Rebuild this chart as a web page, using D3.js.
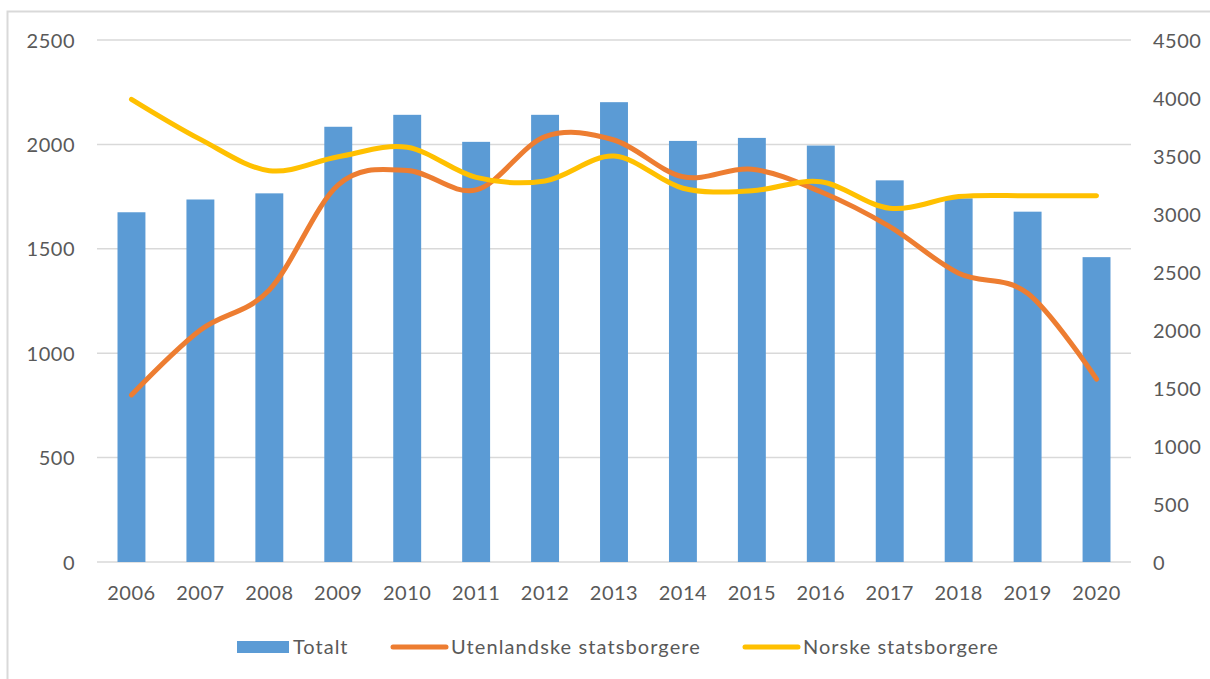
<!DOCTYPE html>
<html>
<head>
<meta charset="utf-8">
<script src="https://cdn.jsdelivr.net/npm/d3@7"></script>
<style>
  body { margin: 0; background: #fff; }
  svg text { font-family: Lato, "Open Sans", sans-serif; fill: #595959; }
</style>
</head>
<body>
<div id="chart"></div>
<script>
// data
var years = ["2006", "2007", "2008", "2009", "2010", "2011", "2012", "2013",
             "2014", "2015", "2016", "2017", "2018", "2019", "2020"];
var totalt = [3015, 3125, 3178, 3752, 3855, 3622, 3855, 3964, 3630, 3656, 3590, 3290, 3135, 3020, 2628];
var utenlandske = [800, 1111, 1303, 1806, 1875, 1782, 2037, 2021, 1845, 1881, 1773, 1606, 1383, 1287, 876];
var norske = [2216, 2024, 1874, 1941, 1986, 1842, 1825, 1944, 1790, 1778, 1821, 1694, 1750, 1754, 1754];
var leftTicks = [0, 500, 1000, 1500, 2000, 2500];
var rightTicks = [0, 500, 1000, 1500, 2000, 2500, 3000, 3500, 4000, 4500];

var W = 1210, H = 679;
var margin = {top: 40, right: 79, bottom: 117, left: 97};
var width = W - margin.left - margin.right;
var height = H - margin.top - margin.bottom;

var svg = d3.select("#chart").append("svg")
    .attr("width", W)
    .attr("height", H);

// outer frame
svg.append("rect")
    .attr("x", 7.5).attr("y", 11.5)
    .attr("width", W).attr("height", H)
    .attr("fill", "none")
    .attr("stroke", "#d9d9d9")
    .attr("stroke-width", 2);

var g = svg.append("g")
    .attr("transform", "translate(" + margin.left + "," + margin.top + ")");

var x = d3.scaleBand().domain(years).range([0, width]).paddingInner(0.595).paddingOuter(0.2975);
var xc = function(d) { return x(d) + x.bandwidth() / 2; };
var yL = d3.scaleLinear().domain([0, 2500]).range([height, 0]);
var yR = d3.scaleLinear().domain([0, 4500]).range([height, 0]);

// gridlines
g.append("g")
  .selectAll("line")
  .data(leftTicks)
  .join("line")
    .attr("x1", 0).attr("x2", width)
    .attr("y1", function(d) { return yL(d); })
    .attr("y2", function(d) { return yL(d); })
    .attr("stroke", "#d9d9d9")
    .attr("stroke-width", 1.5);

// left axis
var axL = g.append("g")
    .attr("transform", "translate(-22,0)")
    .call(d3.axisLeft(yL).tickValues(leftTicks).tickFormat(d3.format("d")).tickSize(0).tickPadding(0));
axL.select(".domain").remove();
axL.selectAll("text").style("font-size", "20px").style("letter-spacing", "0.5px").attr("dy", "0.35em");

// right axis
var axR = g.append("g")
    .attr("transform", "translate(" + (width + 22) + ",0)")
    .call(d3.axisRight(yR).tickValues(rightTicks).tickFormat(d3.format("d")).tickSize(0).tickPadding(0));
axR.select(".domain").remove();
axR.selectAll("text").style("font-size", "20px").style("letter-spacing", "0.5px").attr("dy", "0.35em");

// x axis labels
var axX = g.append("g")
    .attr("transform", "translate(0," + height + ")")
    .call(d3.axisBottom(x).tickSize(0).tickPadding(24));
axX.select(".domain").remove();
axX.selectAll("text").style("font-size", "20px").style("letter-spacing", "0.5px");

// bars (right axis)
g.append("g")
  .selectAll("rect")
  .data(years)
  .join("rect")
    .attr("x", function(d) { return x(d); })
    .attr("width", x.bandwidth())
    .attr("y", function(d, i) { return yR(totalt[i]); })
    .attr("height", function(d, i) { return height - yR(totalt[i]); })
    .attr("fill", "#5b9bd5");

// smoothed lines (left axis)
var line = d3.line()
    .x(function(d) { return xc(d.year); })
    .y(function(d) { return yL(d.v); })
    .curve(d3.curveCardinal.tension(0));

function series(vals) {
    return years.map(function(yr, i) { return {year: yr, v: vals[i]}; });
}

g.append("path")
    .datum(series(utenlandske))
    .attr("d", line)
    .attr("fill", "none")
    .attr("stroke", "#ed7d31")
    .attr("stroke-width", 5)
    .attr("stroke-linecap", "round");

g.append("path")
    .datum(series(norske))
    .attr("d", line)
    .attr("fill", "none")
    .attr("stroke", "#ffc000")
    .attr("stroke-width", 5)
    .attr("stroke-linecap", "round");

// legend
var leg = svg.append("g").attr("transform", "translate(0,647)");
leg.append("rect").attr("x", 237).attr("y", -6).attr("width", 52).attr("height", 12).attr("fill", "#5b9bd5");
leg.append("text").attr("x", 293).attr("y", 0).attr("dy", "0.35em").style("font-size", "20px").style("letter-spacing", "1px").text("Totalt");
leg.append("line").attr("x1", 393).attr("x2", 446).attr("y1", 0).attr("y2", 0)
    .attr("stroke", "#ed7d31").attr("stroke-width", 5).attr("stroke-linecap", "round");
leg.append("text").attr("x", 451).attr("y", 0).attr("dy", "0.35em").style("font-size", "20px").style("letter-spacing", "1.1px").text("Utenlandske statsborgere");
leg.append("line").attr("x1", 745).attr("x2", 798).attr("y1", 0).attr("y2", 0)
    .attr("stroke", "#ffc000").attr("stroke-width", 5).attr("stroke-linecap", "round");
leg.append("text").attr("x", 803).attr("y", 0).attr("dy", "0.35em").style("font-size", "20px").style("letter-spacing", "1px").text("Norske statsborgere");
</script>
</body>
</html>
